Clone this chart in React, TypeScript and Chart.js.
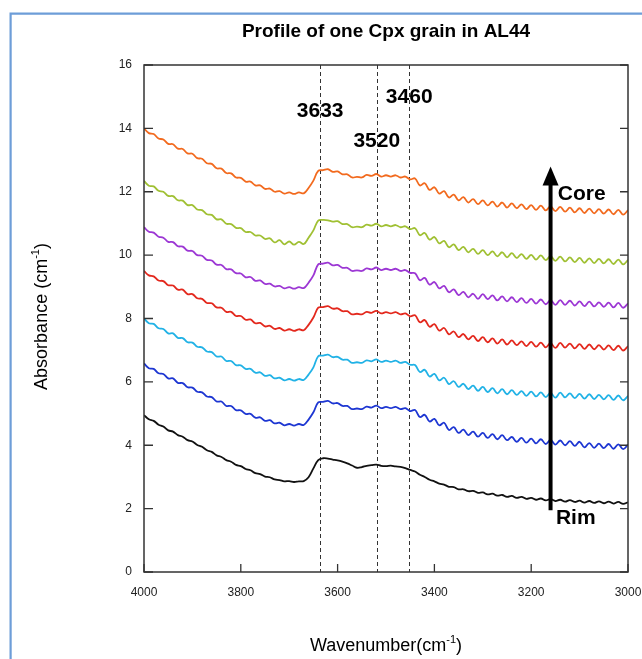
import React, { useEffect, useRef } from "react";
import { Chart, registerables } from "chart.js";

Chart.register(...registerables);

// ---- data ----
const WAVENUMBERS = [
  4000, 3990, 3980, 3970, 3960, 3950, 3940, 3930, 3920, 3910,
  3900, 3890, 3880, 3870, 3860, 3850, 3840, 3830, 3820, 3810,
  3800, 3790, 3780, 3770, 3760, 3750, 3740, 3730, 3720, 3710,
  3700, 3690, 3680, 3670, 3660, 3650, 3640, 3630, 3620, 3610,
  3600, 3590, 3580, 3570, 3560, 3550, 3540, 3530, 3520, 3510,
  3500, 3490, 3480, 3470, 3460, 3450, 3440, 3430, 3420, 3410,
  3400, 3390, 3380, 3370, 3360, 3350, 3340, 3330, 3320, 3310,
  3300, 3290, 3280, 3270, 3260, 3250, 3240, 3230, 3220, 3210,
  3200, 3190, 3180, 3170, 3160, 3150, 3140, 3130, 3120, 3110,
  3100, 3090, 3080, 3070, 3060, 3050, 3040, 3030, 3020, 3010,
  3000,
];

const SPECTRUM_ORANGE = [
  14.0, 13.85, 13.82, 13.68, 13.65, 13.51, 13.5, 13.36, 13.35, 13.21,
  13.2, 13.06, 13.04, 12.9, 12.88, 12.74, 12.73, 12.59, 12.58, 12.45,
  12.44, 12.32, 12.32, 12.2, 12.2, 12.09, 12.1, 12.0, 12.02, 11.94,
  11.98, 11.93, 11.98, 11.95, 12.12, 12.35, 12.66, 12.68, 12.71, 12.63,
  12.64, 12.55, 12.55, 12.45, 12.47, 12.45, 12.53, 12.5, 12.56, 12.48,
  12.52, 12.48, 12.52, 12.45, 12.48, 12.39, 12.42, 12.2, 12.27, 12.06,
  12.14, 11.94, 12.02, 11.82, 11.91, 11.73, 11.83, 11.66, 11.77, 11.61,
  11.73, 11.57, 11.69, 11.53, 11.66, 11.5, 11.63, 11.48, 11.6, 11.45,
  11.58, 11.43, 11.56, 11.41, 11.54, 11.39, 11.52, 11.37, 11.5, 11.35,
  11.48, 11.33, 11.47, 11.32, 11.45, 11.31, 11.44, 11.29, 11.43, 11.28,
  11.42,
];

const SPECTRUM_GREEN = [
  12.34, 12.19, 12.17, 12.03, 12.0, 11.87, 11.86, 11.73, 11.72, 11.58,
  11.58, 11.44, 11.42, 11.29, 11.27, 11.13, 11.13, 10.99, 10.98, 10.86,
  10.85, 10.73, 10.73, 10.62, 10.62, 10.51, 10.53, 10.4, 10.47, 10.34,
  10.43, 10.33, 10.42, 10.35, 10.55, 10.78, 11.09, 11.11, 11.1, 11.06,
  11.07, 10.98, 10.98, 10.88, 10.9, 10.88, 10.96, 10.93, 10.99, 10.91,
  10.95, 10.91, 10.95, 10.88, 10.91, 10.82, 10.85, 10.63, 10.7, 10.49,
  10.57, 10.37, 10.45, 10.25, 10.34, 10.16, 10.26, 10.09, 10.2, 10.04,
  10.16, 10.0, 10.12, 9.96, 10.09, 9.93, 10.06, 9.91, 10.03, 9.88,
  10.01, 9.86, 9.99, 9.84, 9.97, 9.82, 9.95, 9.8, 9.93, 9.78,
  9.91, 9.76, 9.9, 9.75, 9.88, 9.74, 9.87, 9.72, 9.86, 9.71,
  9.85,
];

const SPECTRUM_PURPLE = [
  10.88, 10.74, 10.71, 10.58, 10.55, 10.42, 10.41, 10.28, 10.27, 10.14,
  10.13, 10.0, 9.98, 9.85, 9.83, 9.7, 9.69, 9.56, 9.55, 9.43,
  9.42, 9.3, 9.31, 9.19, 9.2, 9.09, 9.1, 9.01, 9.03, 8.95,
  8.99, 8.94, 8.99, 8.96, 9.13, 9.36, 9.71, 9.73, 9.76, 9.68,
  9.69, 9.6, 9.6, 9.5, 9.52, 9.5, 9.58, 9.55, 9.61, 9.53,
  9.57, 9.53, 9.57, 9.5, 9.53, 9.44, 9.43, 9.21, 9.28, 9.07,
  9.15, 8.95, 9.03, 8.83, 8.92, 8.74, 8.84, 8.67, 8.78, 8.62,
  8.77, 8.61, 8.73, 8.57, 8.7, 8.54, 8.67, 8.52, 8.64, 8.49,
  8.62, 8.47, 8.6, 8.45, 8.58, 8.43, 8.58, 8.43, 8.56, 8.41,
  8.54, 8.39, 8.53, 8.38, 8.51, 8.37, 8.5, 8.35, 8.49, 8.34,
  8.48,
];

const SPECTRUM_RED = [
  9.5, 9.36, 9.33, 9.2, 9.18, 9.05, 9.04, 8.91, 8.91, 8.77,
  8.77, 8.64, 8.62, 8.49, 8.48, 8.35, 8.34, 8.21, 8.21, 8.08,
  8.08, 7.96, 7.97, 7.85, 7.86, 7.75, 7.77, 7.67, 7.7, 7.62,
  7.66, 7.61, 7.66, 7.63, 7.8, 8.03, 8.34, 8.36, 8.39, 8.31,
  8.32, 8.23, 8.23, 8.13, 8.15, 8.13, 8.21, 8.18, 8.24, 8.16,
  8.2, 8.16, 8.2, 8.13, 8.16, 8.07, 8.1, 7.88, 7.95, 7.74,
  7.82, 7.62, 7.7, 7.5, 7.59, 7.41, 7.51, 7.34, 7.45, 7.29,
  7.41, 7.25, 7.37, 7.21, 7.34, 7.18, 7.31, 7.16, 7.28, 7.13,
  7.26, 7.11, 7.24, 7.09, 7.22, 7.07, 7.23, 7.08, 7.21, 7.06,
  7.19, 7.04, 7.18, 7.03, 7.16, 7.02, 7.15, 7.0, 7.14, 6.99,
  7.13,
];

const SPECTRUM_CYAN = [
  8.0, 7.85, 7.83, 7.69, 7.67, 7.53, 7.53, 7.39, 7.38, 7.25,
  7.24, 7.11, 7.09, 6.96, 6.94, 6.8, 6.8, 6.66, 6.66, 6.53,
  6.52, 6.41, 6.41, 6.29, 6.3, 6.19, 6.21, 6.11, 6.13, 6.05,
  6.09, 6.04, 6.09, 6.06, 6.23, 6.46, 6.81, 6.83, 6.86, 6.78,
  6.79, 6.7, 6.7, 6.6, 6.62, 6.6, 6.68, 6.65, 6.71, 6.63,
  6.67, 6.63, 6.67, 6.6, 6.63, 6.54, 6.53, 6.31, 6.38, 6.17,
  6.25, 6.05, 6.13, 5.93, 6.02, 5.84, 5.94, 5.77, 5.88, 5.72,
  5.84, 5.68, 5.8, 5.64, 5.77, 5.61, 5.74, 5.59, 5.71, 5.56,
  5.69, 5.54, 5.67, 5.52, 5.65, 5.5, 5.66, 5.51, 5.64, 5.49,
  5.62, 5.47, 5.61, 5.46, 5.59, 5.45, 5.58, 5.43, 5.57, 5.42,
  5.56,
];

const SPECTRUM_BLUE = [
  6.58, 6.43, 6.41, 6.27, 6.25, 6.11, 6.11, 5.97, 5.96, 5.83,
  5.82, 5.69, 5.67, 5.54, 5.52, 5.38, 5.38, 5.24, 5.24, 5.11,
  5.1, 4.99, 4.99, 4.87, 4.88, 4.77, 4.79, 4.69, 4.71, 4.63,
  4.67, 4.62, 4.67, 4.64, 4.81, 5.04, 5.35, 5.37, 5.4, 5.32,
  5.33, 5.24, 5.24, 5.14, 5.16, 5.14, 5.22, 5.19, 5.25, 5.17,
  5.21, 5.17, 5.21, 5.14, 5.17, 5.08, 5.11, 4.89, 4.96, 4.75,
  4.83, 4.63, 4.71, 4.48, 4.57, 4.39, 4.49, 4.32, 4.43, 4.27,
  4.39, 4.23, 4.35, 4.19, 4.32, 4.16, 4.26, 4.11, 4.23, 4.08,
  4.21, 4.06, 4.19, 4.04, 4.17, 4.02, 4.15, 4.0, 4.13, 3.98,
  4.11, 3.93, 4.07, 3.92, 4.05, 3.91, 4.04, 3.89, 4.03, 3.88,
  4.02,
];

const SPECTRUM_BLACK = [
  4.95, 4.82, 4.77, 4.65, 4.59, 4.47, 4.43, 4.32, 4.27, 4.16,
  4.12, 4.01, 3.95, 3.84, 3.79, 3.68, 3.63, 3.53, 3.48, 3.38,
  3.34, 3.25, 3.21, 3.12, 3.09, 3.01, 2.99, 2.92, 2.9, 2.86,
  2.87, 2.84, 2.86, 2.87, 2.99, 3.27, 3.53, 3.59, 3.58, 3.55,
  3.52, 3.48, 3.43, 3.36, 3.29, 3.31, 3.35, 3.37, 3.39, 3.35,
  3.34, 3.36, 3.33, 3.32, 3.28, 3.22, 3.17, 3.07, 3.0, 2.91,
  2.86, 2.79, 2.76, 2.69, 2.68, 2.61, 2.61, 2.55, 2.56, 2.5,
  2.51, 2.45, 2.47, 2.41, 2.43, 2.37, 2.4, 2.34, 2.37, 2.31,
  2.34, 2.28, 2.32, 2.26, 2.3, 2.24, 2.28, 2.22, 2.27, 2.21,
  2.25, 2.19, 2.24, 2.18, 2.23, 2.17, 2.22, 2.16, 2.21, 2.15,
  2.2,
];

const SERIES_VALUES = [
  SPECTRUM_ORANGE,
  SPECTRUM_GREEN,
  SPECTRUM_PURPLE,
  SPECTRUM_RED,
  SPECTRUM_CYAN,
  SPECTRUM_BLUE,
  SPECTRUM_BLACK,
];
const SERIES_NAMES = ["Core", "2", "3", "4", "5", "6", "Rim"];
const SERIES_COLORS = ["#f26a1e", "#a0c033", "#9c37d4", "#e3281d", "#21b2e6", "#1d36d2", "#111111"];

const X_MIN = 3000;
const X_MAX = 4000;
const X_STEP = 200;
const Y_MIN = 0;
const Y_MAX = 16;
const Y_STEP = 2;

const PEAK_POSITIONS = [3636, 3519, 3452];
const PEAK_LABELS = ["3633", "3520", "3460"];
const PEAK_LABEL_Y = [14.55, 13.6, 14.98];

const ARROW_X = 3160;
const ARROW_FROM = 1.95;
const ARROW_TO = 12.8;
const CORE_LABEL = { text: "Core", x: 3145, y: 11.91 };
const RIM_LABEL = { text: "Rim", x: 3149, y: 1.69 };

const TITLE = "Profile of one Cpx grain in AL44";
const FONT = "'Liberation Sans', Arial, Helvetica, sans-serif";

type Seg = { t: string; size: number; dy: number; bold?: boolean };

function drawSegments(ctx: CanvasRenderingContext2D, segs: Seg[], cx: number, baseY: number) {
  let total = 0;
  const widths = segs.map((s) => {
    ctx.font = `${s.bold ? "bold " : ""}${s.size}px ${FONT}`;
    const w = ctx.measureText(s.t).width;
    total += w;
    return w;
  });
  let x = cx - total / 2;
  ctx.textAlign = "left";
  ctx.textBaseline = "alphabetic";
  segs.forEach((s, i) => {
    ctx.font = `${s.bold ? "bold " : ""}${s.size}px ${FONT}`;
    ctx.fillText(s.t, x, baseY + s.dy);
    x += widths[i];
  });
}

const decorPlugin = {
  id: "decor",
  beforeDraw(chart: any) {
    const ctx = chart.ctx as CanvasRenderingContext2D;
    ctx.save();
    ctx.fillStyle = "#ffffff";
    ctx.fillRect(0, 0, chart.width, chart.height);
    ctx.strokeStyle = "#6d9dd8";
    ctx.lineWidth = 2.2;
    ctx.beginPath();
    ctx.moveTo(10.6, chart.height);
    ctx.lineTo(10.6, 13.6);
    ctx.lineTo(chart.width, 13.6);
    ctx.stroke();
    ctx.restore();
  },
  beforeDatasetsDraw(chart: any) {
    const ctx = chart.ctx as CanvasRenderingContext2D;
    const a = chart.chartArea;
    const xs = chart.scales.x;
    ctx.save();
    ctx.setLineDash([4, 3]);
    ctx.strokeStyle = "#333333";
    ctx.lineWidth = 1;
    PEAK_POSITIONS.forEach((p) => {
      const px = Math.round(xs.getPixelForValue(p)) + 0.5;
      ctx.beginPath();
      ctx.moveTo(px, a.top);
      ctx.lineTo(px, a.bottom);
      ctx.stroke();
    });
    ctx.restore();
  },
  afterDraw(chart: any) {
    const ctx = chart.ctx as CanvasRenderingContext2D;
    const a = chart.chartArea;
    const xs = chart.scales.x;
    const ys = chart.scales.y;
    ctx.save();
    // frame
    ctx.strokeStyle = "#333333";
    ctx.lineWidth = 1.5;
    ctx.strokeRect(a.left, a.top, a.right - a.left, a.bottom - a.top);
    // inner ticks
    ctx.lineWidth = 1.3;
    xs.ticks.forEach((t: any) => {
      const px = xs.getPixelForValue(t.value);
      ctx.beginPath();
      ctx.moveTo(px, a.bottom);
      ctx.lineTo(px, a.bottom - 8);
      ctx.stroke();
    });
    ys.ticks.forEach((t: any) => {
      const py = ys.getPixelForValue(t.value);
      ctx.beginPath();
      ctx.moveTo(a.left, py);
      ctx.lineTo(a.left + 9, py);
      ctx.moveTo(a.right, py);
      ctx.lineTo(a.right - 8, py);
      ctx.stroke();
    });

    ctx.fillStyle = "#000000";
    // peak labels
    ctx.font = `bold 21px ${FONT}`;
    ctx.textAlign = "center";
    ctx.textBaseline = "middle";
    PEAK_LABELS.forEach((lab, i) => {
      ctx.fillText(lab, xs.getPixelForValue(PEAK_POSITIONS[i]), ys.getPixelForValue(PEAK_LABEL_Y[i]));
    });

    // arrow
    const ax = xs.getPixelForValue(ARROW_X);
    const yTip = ys.getPixelForValue(ARROW_TO);
    const yBot = ys.getPixelForValue(ARROW_FROM);
    ctx.strokeStyle = "#000000";
    ctx.lineWidth = 4;
    ctx.beginPath();
    ctx.moveTo(ax, yBot);
    ctx.lineTo(ax, yTip + 14);
    ctx.stroke();
    ctx.beginPath();
    ctx.moveTo(ax, yTip);
    ctx.lineTo(ax + 8, yTip + 19);
    ctx.lineTo(ax - 8, yTip + 19);
    ctx.closePath();
    ctx.fill();

    ctx.textAlign = "left";
    ctx.textBaseline = "middle";
    ctx.font = `bold 21px ${FONT}`;
    ctx.fillText(CORE_LABEL.text, xs.getPixelForValue(CORE_LABEL.x), ys.getPixelForValue(CORE_LABEL.y));
    ctx.fillText(RIM_LABEL.text, xs.getPixelForValue(RIM_LABEL.x), ys.getPixelForValue(RIM_LABEL.y));

    // title
    ctx.textAlign = "center";
    ctx.textBaseline = "alphabetic";
    ctx.font = `bold 19px ${FONT}`;
    ctx.fillText(TITLE, (a.left + a.right) / 2, 37);

    // x axis title
    drawSegments(
      ctx,
      [
        { t: "Wavenumber(cm", size: 18, dy: 0 },
        { t: "-1", size: 11, dy: -8 },
        { t: ")", size: 18, dy: 0 },
      ],
      (a.left + a.right) / 2,
      651
    );

    // y axis title
    ctx.save();
    ctx.translate(47, (a.top + a.bottom) / 2 - 2);
    ctx.rotate(-Math.PI / 2);
    drawSegments(
      ctx,
      [
        { t: "Absorbance (cm", size: 18, dy: 0 },
        { t: "-1", size: 11, dy: -8 },
        { t: ")", size: 18, dy: 0 },
      ],
      0,
      0
    );
    ctx.restore();
    ctx.restore();
  },
};

export default function App() {
  const canvasRef = useRef<HTMLCanvasElement | null>(null);

  useEffect(() => {
    if (!canvasRef.current) return;
    const datasets = SERIES_VALUES.map((vals, si) => ({
      label: SERIES_NAMES[si],
      data: vals.map((v, i) => ({ x: WAVENUMBERS[i], y: v })),
      borderColor: SERIES_COLORS[si],
      backgroundColor: SERIES_COLORS[si],
      borderWidth: 1.8,
      pointRadius: 0,
      tension: 0.4,
      fill: false,
    }));
    const chart = new Chart(canvasRef.current, {
      type: "line",
      data: { datasets },
      options: {
        responsive: false,
        animation: false,
        events: [],
        layout: { padding: { left: 0, top: 65, right: 14, bottom: 0 } },
        plugins: { legend: { display: false }, title: { display: false }, tooltip: { enabled: false } },
        scales: {
          x: {
            type: "linear",
            min: X_MIN,
            max: X_MAX,
            reverse: true,
            grid: { display: false, drawTicks: false },
            border: { display: false },
            ticks: {
              stepSize: X_STEP,
              autoSkip: false,
              maxRotation: 0,
              padding: 13,
              color: "#222222",
              font: { family: FONT, size: 12 },
              callback: (v: any) => String(v),
            },
            afterFit: (scale: any) => {
              scale.height = 87;
              scale.paddingLeft = 0;
              scale.paddingRight = 0;
            },
          },
          y: {
            type: "linear",
            min: Y_MIN,
            max: Y_MAX,
            grid: { display: false, drawTicks: false },
            border: { display: false },
            ticks: {
              stepSize: Y_STEP,
              padding: 12,
              color: "#222222",
              font: { family: FONT, size: 12 },
            },
            afterFit: (scale: any) => {
              scale.width = 144;
              scale.paddingTop = 0;
              scale.paddingBottom = 0;
            },
          },
        },
      },
      plugins: [decorPlugin],
    } as any);
    return () => chart.destroy();
  }, []);

  return (
    <div style={{ position: "fixed", left: 0, top: 0, width: 642, height: 659, background: "#fff" }}>
      <canvas ref={canvasRef} width={642} height={659} style={{ width: 642, height: 659 }} />
    </div>
  );
}
